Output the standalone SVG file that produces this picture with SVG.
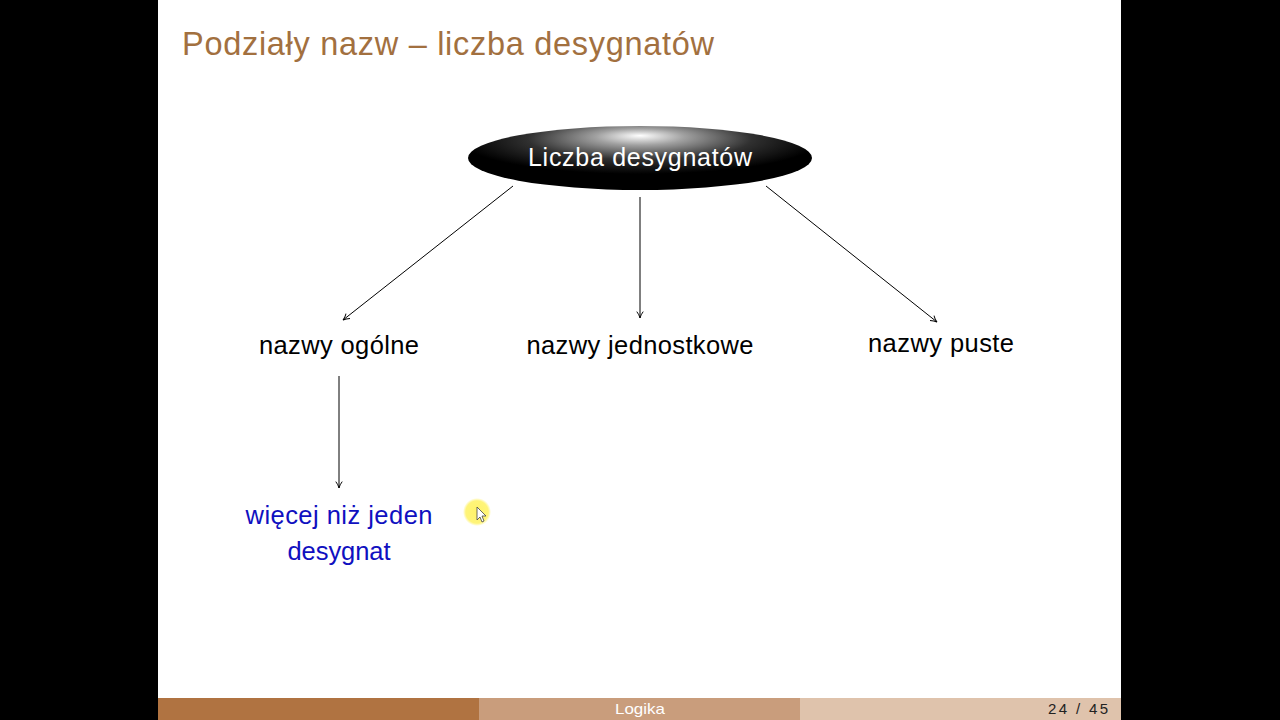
<svg xmlns="http://www.w3.org/2000/svg" width="1280" height="720" viewBox="0 0 1280 720">
<style>
.t{font-family:"Liberation Sans","DejaVu Sans",sans-serif;}
.lbl{font-size:25.5px;fill:#000;text-anchor:middle;}
.blue{font-size:25.5px;fill:#1010c0;text-anchor:middle;}
.conn line{stroke:#000;stroke-width:1;}
</style>
<defs>
<radialGradient id="g" cx="0.5" cy="0.25" r="0.65" fx="0.5" fy="0.15">
<stop offset="0" stop-color="#ffffff"/>
<stop offset="0.2" stop-color="#a0a0a0"/>
<stop offset="0.5" stop-color="#303030"/>
<stop offset="0.8" stop-color="#000000"/>
<stop offset="1" stop-color="#000000"/>
</radialGradient>
<radialGradient id="y" cx="0.5" cy="0.5" r="0.5">
<stop offset="0" stop-color="#fff36a"/>
<stop offset="0.8" stop-color="#fff36a" stop-opacity="0.9"/>
<stop offset="1" stop-color="#fff36a" stop-opacity="0"/>
</radialGradient>
<marker id="a" viewBox="0 0 10 10" refX="9" refY="5" markerWidth="8" markerHeight="8" markerUnits="userSpaceOnUse" orient="auto">
<path d="M1,1 Q5,4 9,5 Q5,6 1,9" fill="none" stroke="#000" stroke-width="1.2"/>
</marker>
</defs>
<rect width="1280" height="720" fill="#000"/>
<rect x="158" y="0" width="963" height="698" fill="#fff"/>
<g id="footer">
<rect x="158" y="698" width="321" height="22" fill="#b07341"/>
<rect x="479" y="698" width="321" height="22" fill="#c99d7c"/>
<rect x="800" y="698" width="321" height="22" fill="#dfc3ac"/>
<text class="t" x="640" y="714" font-size="15" fill="#fff" text-anchor="middle" textLength="50" lengthAdjust="spacingAndGlyphs">Logika</text>
<text class="t" x="1078" y="714" font-size="15" fill="#222" text-anchor="middle" textLength="60" lengthAdjust="spacing">24 / 45</text>
</g>
<text id="title" class="t" x="182" y="55" font-size="32.5" fill="#a2703f" textLength="532" lengthAdjust="spacing">Podziały nazw – liczba desygnatów</text>
<g id="root">
<ellipse cx="640" cy="158" rx="172" ry="32" fill="url(#g)"/>
<text class="t" x="640" y="166" font-size="25" fill="#fff" text-anchor="middle" textLength="224" lengthAdjust="spacing">Liczba desygnatów</text>
</g>
<g id="connectors" class="conn">
<line x1="513" y1="186" x2="343" y2="320" marker-end="url(#a)"/>
<line x1="640" y1="197" x2="640" y2="318" marker-end="url(#a)"/>
<line x1="766" y1="186" x2="937" y2="322" marker-end="url(#a)"/>
<line x1="339" y1="376" x2="339" y2="488" marker-end="url(#a)"/>
</g>
<g id="n1"><text class="t lbl" x="339" y="354" textLength="160" lengthAdjust="spacing">nazwy ogólne</text></g>
<g id="n2"><text class="t lbl" x="640" y="354" textLength="227" lengthAdjust="spacing">nazwy jednostkowe</text></g>
<g id="n3"><text class="t lbl" x="941" y="352" textLength="146" lengthAdjust="spacing">nazwy puste</text></g>
<g id="n4"><text class="t blue" x="339" y="524" textLength="187" lengthAdjust="spacing">więcej niż jeden</text><text class="t blue" x="339" y="560" textLength="103" lengthAdjust="spacing">desygnat</text></g>
<g id="cursor">
<circle cx="477" cy="512" r="14" fill="url(#y)"/>
<path d="M477,507 L477,520 L480,517 L482,522 L484,521 L482,516 L486,516 Z" fill="#fff" stroke="#444" stroke-width="0.8"/>
</g>
</svg>
